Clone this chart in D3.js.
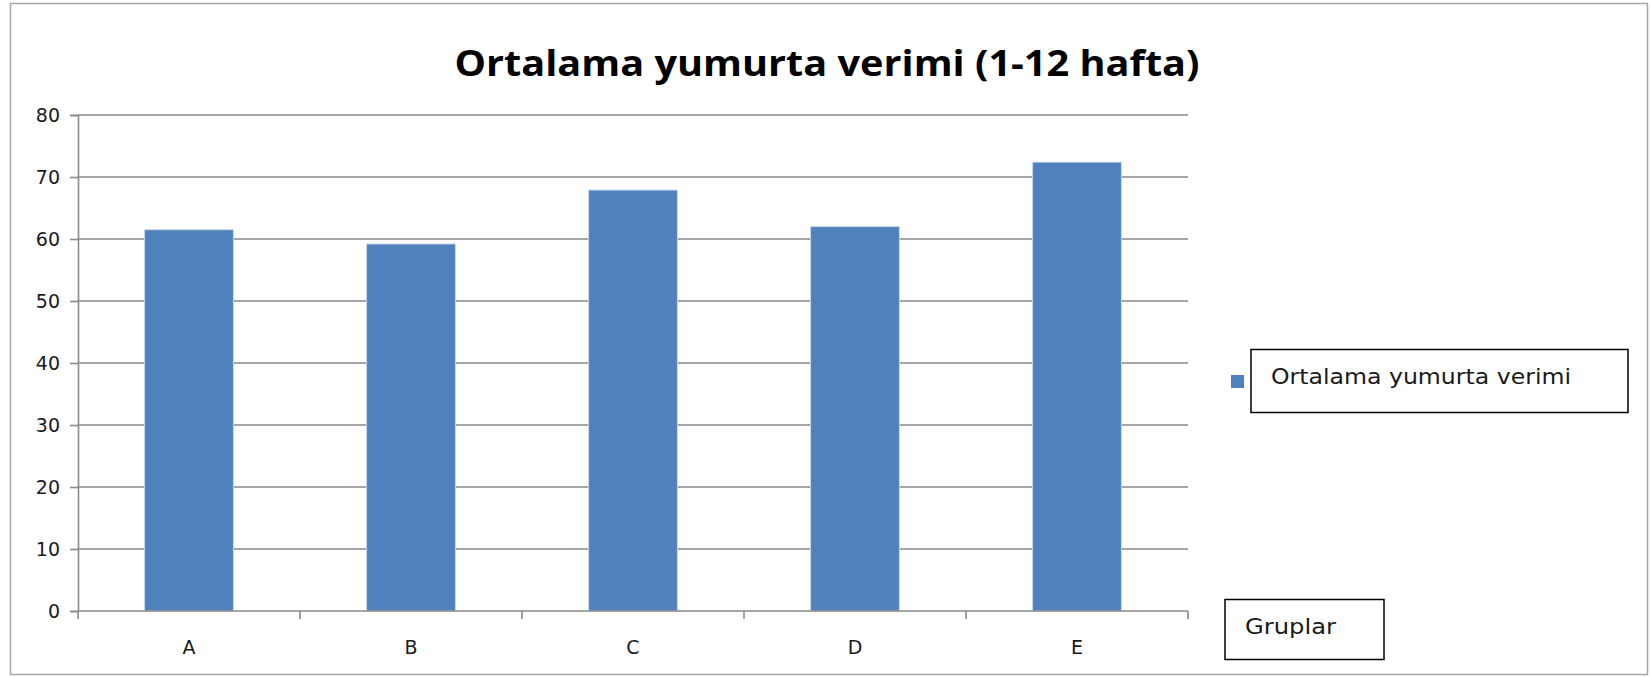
<!DOCTYPE html>
<html>
<head>
<meta charset="utf-8">
<script src="https://cdn.jsdelivr.net/npm/d3@7"></script>
<style>
html,body{margin:0;padding:0;background:#fff;}
svg{display:block;}
</style>
</head>
<body>
<svg id="chart" width="1650" height="677"></svg>
<script>
const categories = ["A", "B", "C", "D", "E"];
const values = [61.5, 59.2, 67.9, 62.0, 72.4];
const yTicks = [0, 10, 20, 30, 40, 50, 60, 70, 80];
const seriesName = "Ortalama yumurta verimi";
const titleText = "Ortalama yumurta verimi (1-12 hafta)";
const axisTitle = "Gruplar";

const svg = d3.select("#chart");
const W = 1650, H = 677;
const plot = {left: 78, right: 1188, top: 115, bottom: 611};

// outer border
svg.append("rect").attr("x", 10.5).attr("y", 3.5).attr("width", 1637).attr("height", 671)
  .attr("fill", "#fff").attr("stroke", "#a6a6a6").attr("stroke-width", 1.5);

const x = d3.scaleBand().domain(categories).range([plot.left, plot.right])
  .paddingInner(0.6).paddingOuter(0.3);
const y = d3.scaleLinear().domain([0, 80]).range([plot.bottom, plot.top]);

// gridlines
svg.append("g").selectAll("line").data(yTicks.filter(d => d > 0)).join("line")
  .attr("x1", plot.left).attr("x2", plot.right)
  .attr("y1", d => y(d)).attr("y2", d => y(d))
  .attr("stroke", "#8a8a8a").attr("stroke-width", 1.6);

// y axis
const yAxis = d3.axisLeft(y).tickValues(yTicks).tickSize(8).tickPadding(10);
const gy = svg.append("g").attr("transform", `translate(${plot.left},0)`).call(yAxis);
gy.select(".domain").attr("stroke", "#8a8a8a").attr("stroke-width", 1.6);
gy.selectAll(".tick line").attr("stroke", "#8a8a8a").attr("stroke-width", 1.6);
gy.selectAll(".tick text").attr("font-family", "DejaVu Sans").attr("font-size", 19)
  .attr("fill", "#1a1a1a").attr("dy", "0.36em");

// bars
svg.append("g").selectAll("rect").data(values).join("rect")
  .attr("x", (d, i) => x(categories[i]))
  .attr("width", x.bandwidth())
  .attr("y", d => y(d))
  .attr("height", d => y(0) - y(d))
  .attr("fill", "#4f81bd")
  .attr("stroke", "#c9d8ec").attr("stroke-width", 1);

// x axis
const gx = svg.append("g").attr("transform", `translate(0,${plot.bottom})`);
gx.append("line").attr("x1", plot.left).attr("x2", plot.right).attr("y1", 0).attr("y2", 0)
  .attr("stroke", "#8a8a8a").attr("stroke-width", 1.6);
const step = x.step();
const boundaries = d3.range(categories.length + 1).map(i => plot.left + i * step);
gx.selectAll("line.tk").data(boundaries).join("line").attr("class", "tk")
  .attr("x1", d => d).attr("x2", d => d).attr("y1", 0).attr("y2", 8)
  .attr("stroke", "#8a8a8a").attr("stroke-width", 1.6);
gx.selectAll("text").data(categories).join("text")
  .attr("x", d => x(d) + x.bandwidth() / 2).attr("y", 43)
  .attr("text-anchor", "middle")
  .attr("font-family", "DejaVu Sans").attr("font-size", 19).attr("fill", "#1a1a1a")
  .text(d => d);

// title
svg.append("text").attr("x", 827).attr("y", 76).attr("text-anchor", "middle")
  .attr("font-family", "Open Sans").attr("font-weight", "bold").attr("font-size", 36)
  .attr("textLength", 745).attr("lengthAdjust", "spacingAndGlyphs")
  .attr("fill", "#000").text(titleText);

// legend
const lg = svg.append("g");
lg.append("rect").attr("x", 1231).attr("y", 375).attr("width", 13).attr("height", 13)
  .attr("fill", "#4f81bd");
lg.append("rect").attr("x", 1251).attr("y", 349.5).attr("width", 377).attr("height", 63)
  .attr("fill", "none").attr("stroke", "#000").attr("stroke-width", 1.5);
lg.append("text").attr("x", 1271).attr("y", 384)
  .attr("font-family", "DejaVu Sans").attr("font-size", 21).attr("fill", "#1a1a1a")
  .attr("textLength", 300).attr("lengthAdjust", "spacingAndGlyphs")
  .text(seriesName);

// axis title box
const at = svg.append("g");
at.append("rect").attr("x", 1225).attr("y", 599.5).attr("width", 159).attr("height", 60)
  .attr("fill", "none").attr("stroke", "#000").attr("stroke-width", 1.5);
at.append("text").attr("x", 1245).attr("y", 634)
  .attr("font-family", "DejaVu Sans").attr("font-size", 21).attr("fill", "#1a1a1a")
  .attr("textLength", 91).attr("lengthAdjust", "spacingAndGlyphs")
  .text(axisTitle);
</script>
</body>
</html>
